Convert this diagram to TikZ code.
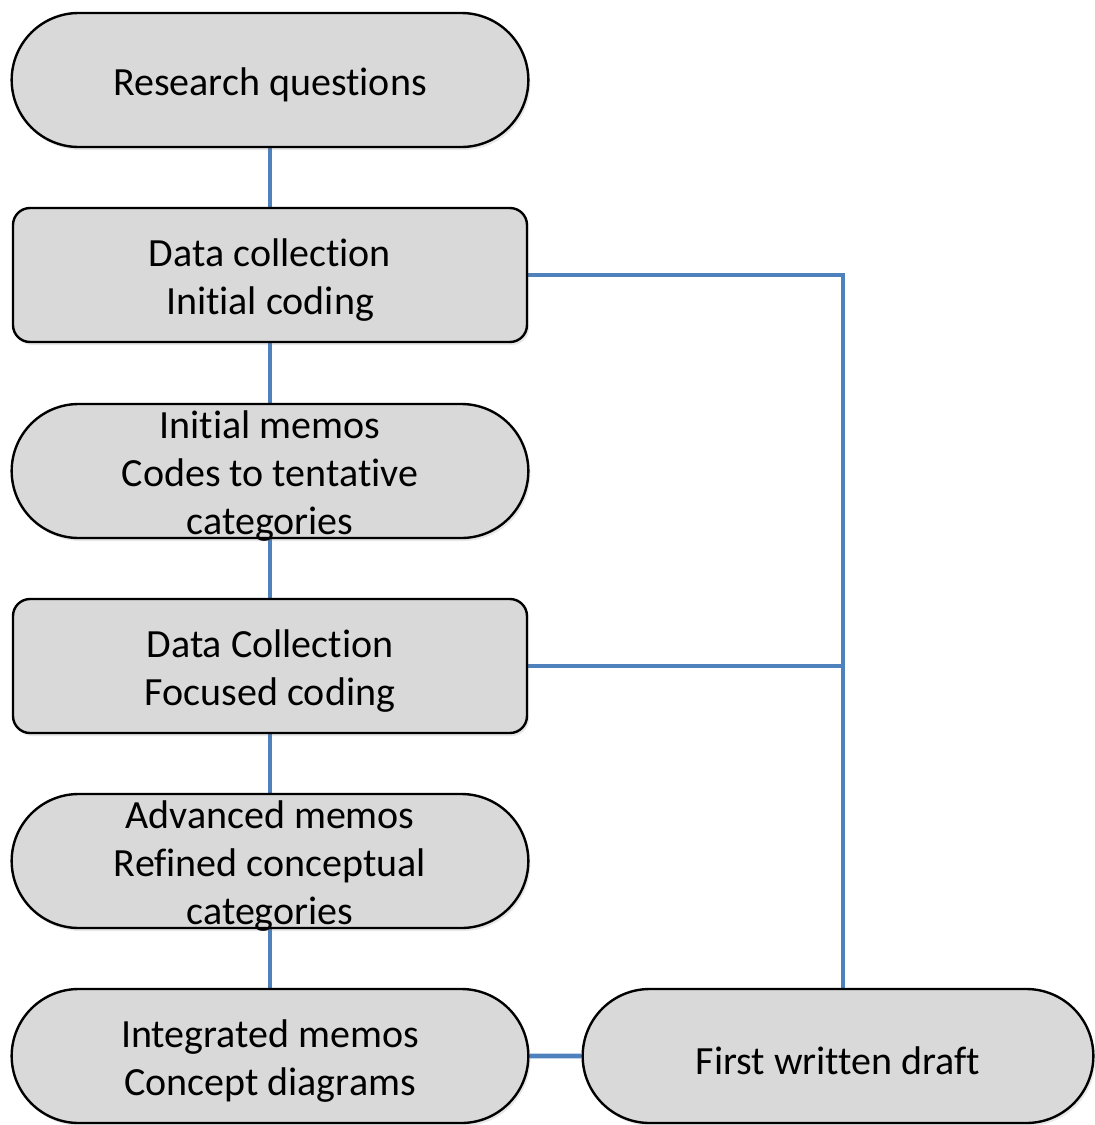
\documentclass[tikz,border=0pt]{standalone}
\usepackage{fontspec}
\setmainfont{Carlito}[Ligatures=CommonOff]
\usetikzlibrary{shapes.misc,shadows,backgrounds}
\definecolor{linkblue}{HTML}{4F81BD}
\definecolor{boxgray}{HTML}{D9D9D9}

\begin{document}
\begin{tikzpicture}[x=0.5pt,y=-0.5pt,
    box/.style={draw=black,line width=1.2pt,fill=boxgray,minimum width=257pt,minimum height=67pt,
        inner ysep=0pt,
        drop shadow={opacity=0.18,shadow xshift=1pt,shadow yshift=-1.5pt}},
    pill/.style={box,rounded rectangle,minimum width=265pt},
    card/.style={box,rectangle,rounded corners=8.5pt},
    txt/.style={align=center,font=\fontsize{20}{24}\selectfont,yshift=-2.4pt},
    link/.style={draw=linkblue,line width=2.3pt}]
    \useasboundingbox (0,0) rectangle (1095,1125);

    %steps
    \node[pill,label={[txt]center:{Research questions}}] (rq) at (270,80) {};
    \node[card,label={[txt]center:{Data collection\\Initial coding}}] (dc1) at (270,275) {};
    \node[pill,label={[txt]center:{Initial memos\\Codes to tentative\\categories}}] (memo1) at (270,471) {};
    \node[card,label={[txt]center:{Data Collection\\Focused coding}}] (dc2) at (270,666) {};
    \node[pill,label={[txt]center:{Advanced memos\\Refined conceptual\\categories}}] (memo2) at (270,861) {};
    \node[pill,label={[txt]center:{Integrated memos\\Concept diagrams}}] (memo3) at (270,1056) {};
    \node[pill,minimum width=262pt,label={[txt]center:{First written draft}}] (draft) at (838,1056) {};

    %links
    \coordinate (join) at (843,666);
    \begin{scope}[on background layer]
    \draw[link] (rq) -- (dc1);
    \draw[link] (dc1) -- (memo1);
    \draw[link] (memo1) -- (dc2);
    \draw[link] (dc2) -- (memo2);
    \draw[link] (memo2) -- (memo3);
    \draw[link] (memo3) -- (draft);
    \draw[link] (dc1.east) -| (join) -- (join |- draft.north);
    \draw[link] (dc2.east) -- (join);
    \end{scope}
\end{tikzpicture}
\end{document}
